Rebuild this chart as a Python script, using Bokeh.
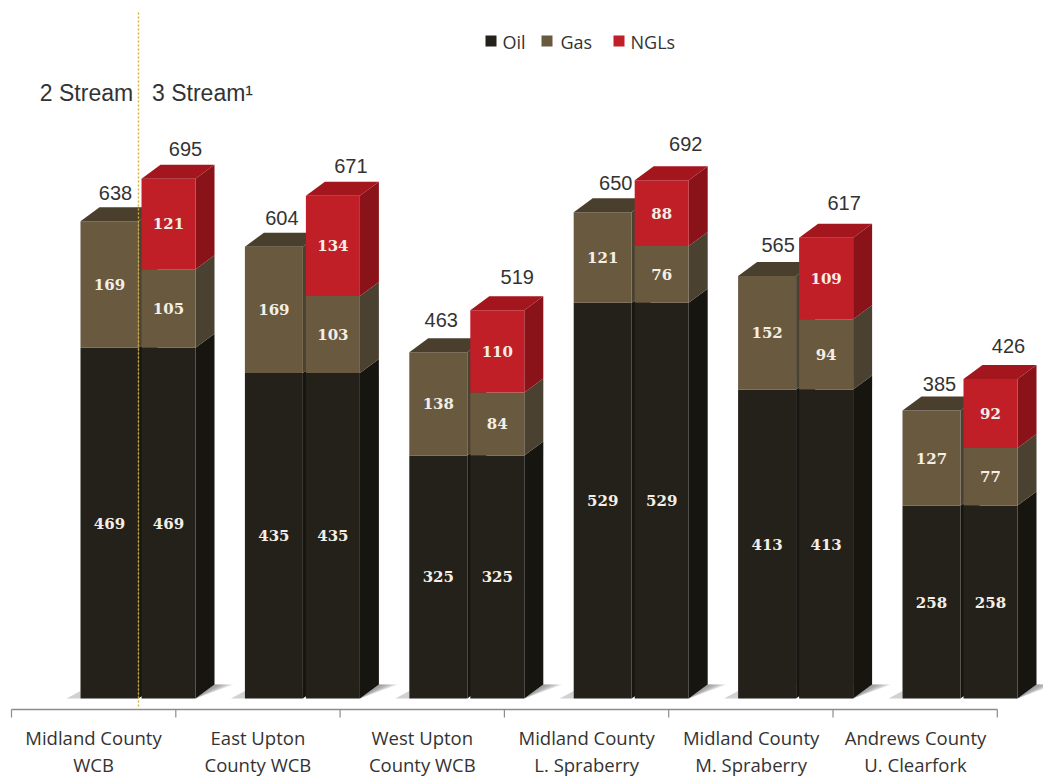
from bokeh.embed import file_html
from bokeh.resources import INLINE
from bokeh.plotting import figure
from bokeh.models import Range1d
from bokeh.core.properties import value

# Values per county: two-stream (oil, gas) and three-stream (oil, gas, NGLs)
county_line1 = ["Midland County", "East Upton", "West Upton", "Midland County", "Midland County", "Andrews County"]
county_line2 = ["WCB", "County WCB", "County WCB", "L. Spraberry", "M. Spraberry", "U. Clearfork"]
oil = [469, 435, 325, 529, 413, 258]
gas_two = [169, 169, 138, 121, 152, 127]
gas_three = [105, 103, 84, 76, 94, 77]
ngl = [121, 134, 110, 88, 109, 92]
total_two = [638, 604, 463, 650, 565, 385]
total_three = [695, 671, 519, 692, 617, 426]

# Label nudges relative to each bar's top front edge, in pixels (right, up)
nudge_two = [(6, 28), (8, 29), (3, 32), (13, 29), (11, 31), (8, 27)]
nudge_three = [(17, 30), (18, 31), (20, 33), (24, 37), (18, 34), (18, 34)]

W, H = 1043, 780
BASE_PX = 698
PX_PER_UNIT = 0.748
DEPTH_X = 19
DEPTH_Y = 14 / PX_PER_UNIT

OIL = ("#24211a", "#161510", "#1c1a14")
GAS = ("#69593f", "#4a4130", "#4a3f2c")
NGL = ("#c11f27", "#8a1219", "#a3161d")
SANS = value("Liberation Sans")
HUMANIST = value("Open Sans")


def y_of(px):
    """Convert a distance from the top of the canvas to value units."""
    return (BASE_PX - px) / PX_PER_UNIT


p = figure(width=W, height=H, x_range=Range1d(0, W), y_range=Range1d(y_of(H), y_of(0)),
           output_backend="svg", toolbar_location=None, min_border=0,
           background_fill_color="white", border_fill_color="white", outline_line_color=None)
p.axis.visible = False
p.grid.visible = False


def stacked_bar(left, width, parts):
    bottom = 0
    right = left + width
    for amount, (front, side, _) in parts:
        top = bottom + amount
        p.patch([right, right + DEPTH_X, right + DEPTH_X, right],
                [bottom, bottom + DEPTH_Y, top + DEPTH_Y, top],
                fill_color=side, line_color=None)
        p.quad(left=left, right=right, bottom=bottom, top=top, fill_color=front, line_color=None)
        p.text([left + width / 2], [bottom + amount / 2], text=[str(amount)],
               text_color="#f4efe6", text_font=value("DejaVu Serif"), text_font_size="15px",
               text_font_style="bold", text_align="center", text_baseline="middle")
        bottom = top
    cap = parts[-1][1][2]
    p.patch([left, left + DEPTH_X, right + DEPTH_X, right],
            [bottom, bottom + DEPTH_Y, bottom + DEPTH_Y, bottom],
            fill_color=cap, line_color=None)


PERIOD = 164.4
for i in range(len(oil)):
    left = 80 + i * PERIOD
    # Floor shadows, stacked translucent wedges on either side of the pair
    p.patch([left - 14, left, left], [0, 0, 10], fill_color="#999999", fill_alpha=0.45, line_color=None)
    for k in range(6):
        reach = 4 + k * 3
        p.patch([left + 115, left + 134, left + 134 + reach],
                [0, DEPTH_Y, DEPTH_Y], fill_color="#808080", fill_alpha=0.2, line_color=None)
    stacked_bar(left, 58, [(oil[i], OIL), (gas_two[i], GAS)])
    stacked_bar(left + 61, 54, [(oil[i], OIL), (gas_three[i], GAS), (ngl[i], NGL)])
    # Totals above each bar
    for total, nudge, centre in ((total_two[i], nudge_two[i], left + 29), (total_three[i], nudge_three[i], left + 88)):
        p.text([centre + nudge[0]], [total + nudge[1] / PX_PER_UNIT], text=[str(total)],
               text_color="#333333", text_font=SANS, text_font_size="20px",
               text_align="center", text_baseline="middle")
    # County labels under the bracket
    centre = 93 + i * PERIOD
    p.text([centre], [y_of(737)], text=[county_line1[i]], text_color="#333333", text_font=HUMANIST,
           text_font_size="18.5px", text_align="center", text_baseline="middle")
    p.text([centre], [y_of(764)], text=[county_line2[i]], text_color="#333333", text_font=HUMANIST,
           text_font_size="18.5px", text_align="center", text_baseline="middle")

# Bracket axis with group separators
p.segment([11], [y_of(709)], [997], [y_of(709)], line_color="#8c8c8c", line_width=1.3)
for i in range(7):
    x = 11 + i * 164.3
    p.segment([x], [y_of(709)], [x], [y_of(717)], line_color="#8c8c8c", line_width=1.2)

# Divider between the two reporting bases
p.segment([138], [y_of(12)], [138], [y_of(708)], line_color="#d8b030", line_width=1.4, line_dash="2 2")
p.text([86], [y_of(92)], text=["2 Stream"], text_color="#333333", text_font=SANS, text_font_size="23px",
       text_align="center", text_baseline="middle")
p.text([202], [y_of(92)], text=["3 Stream\u00b9"], text_color="#333333", text_font=SANS, text_font_size="23px",
       text_align="center", text_baseline="middle")

# Legend
for name, colour, swatch, label_x in (("Oil", OIL[0], 485, 502), ("Gas", GAS[0], 541, 560), ("NGLs", NGL[0], 613, 630)):
    p.quad(left=swatch, right=swatch + 11, bottom=y_of(46), top=y_of(35), fill_color=colour, line_color=None)
    p.text([label_x], [y_of(41)], text=[name], text_color="#333333", text_font=value("Open Sans"),
           text_font_size="18px", text_align="left", text_baseline="middle")

open("out.html", "w").write(file_html(p, INLINE))
